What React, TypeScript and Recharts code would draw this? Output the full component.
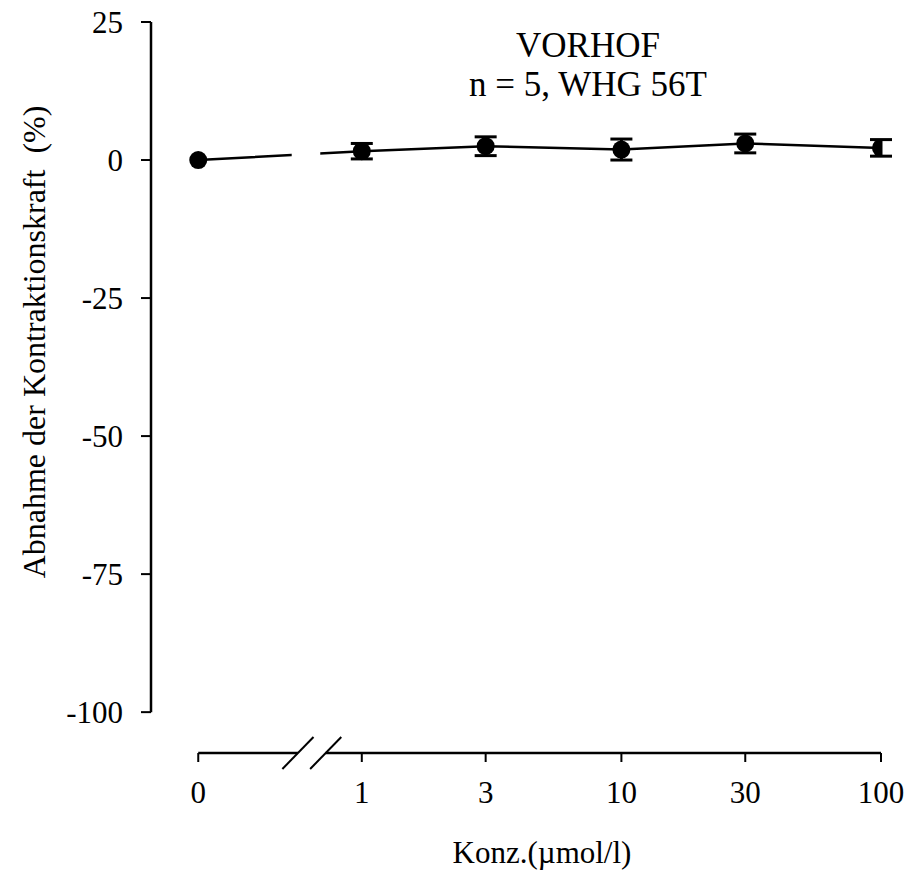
import * as React from "react";
import {
  ErrorBar,
  Line,
  LineChart,
  ReferenceArea,
  ReferenceLine,
  XAxis,
  YAxis,
} from "recharts";

// concentrations (µmol/l) and tick labels
const CONC = [0, 1, 3, 10, 30, 100];
const TICK_LABELS = ["0", "1", "3", "10", "30", "100"];
// mean decrease of contraction force (%) and its SEM, n = 5
const MEAN = [0, 1.6, 2.5, 1.9, 3.0, 2.2];
const SEM = [0, 1.4, 1.7, 1.9, 1.7, 1.5];
const Y_TICKS = [25, 0, -25, -50, -75, -100];

// log axis: "0" is drawn left of the break
const ZERO_POS = -0.63;
const X_MIN = -0.812;
const X_MAX = 2;
const Y_MIN = -107.4;
const Y_MAX = 25;
const BREAK = [-0.246, -0.139];
const GAP = [-0.27, -0.16];

const FONT = "Liberation Serif";

const toPos = (c: number) => (c === 0 ? ZERO_POS : Math.log10(c));

export default function App() {
  const data = CONC.map((c, i) => ({ pos: toPos(c), mean: MEAN[i], sem: SEM[i] }));
  const ticks = CONC.map(toPos);
  const label = (v: number) => TICK_LABELS[ticks.findIndex((t) => Math.abs(t - v) < 1e-6)] ?? "";
  const tickStyle = { fill: "#000", fontSize: 31, fontFamily: FONT };
  const axisStroke = { stroke: "#000", strokeWidth: 2.5 };

  return (
    <div style={{ position: "absolute", left: 0, top: 0, background: "#fff" }}>
      <LineChart
        width={911}
        height={877}
        data={data}
        margin={{ top: 22, right: 30, left: 51, bottom: 64 }}
        style={{ fontFamily: FONT }}
      >
        <XAxis
          type="number"
          dataKey="pos"
          domain={[X_MIN, X_MAX]}
          allowDataOverflow
          ticks={ticks}
          tickFormatter={label}
          axisLine={false}
          tickLine={{ stroke: "#000", strokeWidth: 2 }}
          tickSize={9}
          tickMargin={19}
          height={60}
          tick={tickStyle}
          interval={0}
        />
        <YAxis
          type="number"
          domain={[Y_MIN, Y_MAX]}
          allowDataOverflow
          ticks={Y_TICKS}
          axisLine={false}
          tickLine={{ stroke: "#000", strokeWidth: 2 }}
          tickSize={10}
          tickMargin={18}
          width={100}
          tick={tickStyle}
          interval={0}
        />
        {/* axis lines and break marks */}
        <ReferenceLine
          segment={[{ x: X_MIN, y: -100 }, { x: X_MIN, y: Y_MAX }]}
          ifOverflow="visible"
          {...axisStroke}
        />
        <ReferenceLine
          segment={[{ x: ZERO_POS, y: Y_MIN }, { x: BREAK[0], y: Y_MIN }]}
          ifOverflow="visible"
          {...axisStroke}
        />
        <ReferenceLine
          segment={[{ x: BREAK[1], y: Y_MIN }, { x: X_MAX, y: Y_MIN }]}
          ifOverflow="visible"
          {...axisStroke}
        />
        {BREAK.map((b) => (
          <ReferenceLine
            key={b}
            segment={[{ x: b - 0.06, y: Y_MIN - 2.9 }, { x: b + 0.06, y: Y_MIN + 2.9 }]}
            ifOverflow="visible"
            stroke="#000"
            strokeWidth={2}
          />
        ))}
        <Line
          dataKey="mean"
          stroke="#000"
          strokeWidth={2.5}
          dot={{ r: 9, fill: "#000", stroke: "#000", strokeWidth: 0 }}
          activeDot={false}
          isAnimationActive={false}
        >
          <ErrorBar dataKey="sem" direction="y" width={11} strokeWidth={3} stroke="#000" />
        </Line>
        {/* break in the curve between 0 and 1 */}
        <ReferenceArea
          x1={GAP[0]}
          x2={GAP[1]}
          y1={-4}
          y2={6}
          fill="#fff"
          fillOpacity={1}
          stroke="none"
          ifOverflow="visible"
          zIndex={2000}
        />
        <text x={588} y={57} textAnchor="middle" fontSize={35} fontFamily={FONT} fill="#000">
          VORHOF
        </text>
        <text x={588} y={96} textAnchor="middle" fontSize={35} fontFamily={FONT} fill="#000">
          n = 5, WHG 56T
        </text>
        <text
          x={34}
          y={342}
          transform="rotate(-90 34 342)"
          textAnchor="middle"
          dominantBaseline="central"
          fontSize={32}
          fontFamily={FONT}
          fill="#000"
          style={{ whiteSpace: "pre" }}
        >
          {"Abnahme der Kontraktionskraft  (%)"}
        </text>
        <text x={542} y={863} textAnchor="middle" fontSize={31} fontFamily={FONT} fill="#000">
          Konz.(µmol/l)
        </text>
      </LineChart>
    </div>
  );
}
